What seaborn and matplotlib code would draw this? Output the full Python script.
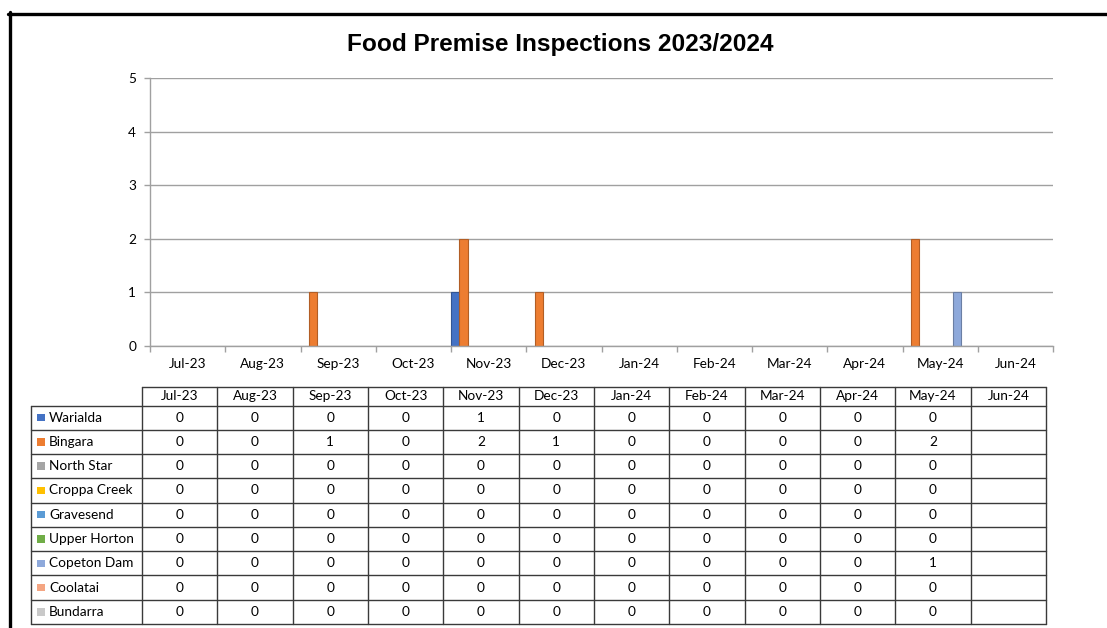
import numpy as np
import pandas as pd
import matplotlib
matplotlib.use('Agg')
import matplotlib.pyplot as plt
import seaborn as sns
from matplotlib.lines import Line2D
from matplotlib.patches import Rectangle
import matplotlib.colors as mcolors

# dados
months = ['Jul-23', 'Aug-23', 'Sep-23', 'Oct-23', 'Nov-23', 'Dec-23',
          'Jan-24', 'Feb-24', 'Mar-24', 'Apr-24', 'May-24', 'Jun-24']
sites = ['Warialda', 'Bingara', 'North Star', 'Croppa Creek', 'Gravesend',
         'Upper Horton', 'Copeton Dam', 'Coolatai', 'Bundarra']
colors = ['#4472C4', '#ED7D31', '#A5A5A5', '#FFC000', '#5B9BD5',
          '#70AD47', '#8EA9DB', '#F4A582', '#C9C9C9']

warialda = [0, 0, 0, 0, 1, 0, 0, 0, 0, 0, 0, None]
bingara = [0, 0, 1, 0, 2, 1, 0, 0, 0, 0, 2, None]
north_star = [0, 0, 0, 0, 0, 0, 0, 0, 0, 0, 0, None]
croppa_creek = [0, 0, 0, 0, 0, 0, 0, 0, 0, 0, 0, None]
gravesend = [0, 0, 0, 0, 0, 0, 0, 0, 0, 0, 0, None]
upper_horton = [0, 0, 0, 0, 0, 0, 0, 0, 0, 0, 0, None]
copeton_dam = [0, 0, 0, 0, 0, 0, 0, 0, 0, 0, 1, None]
coolatai = [0, 0, 0, 0, 0, 0, 0, 0, 0, 0, 0, None]
bundarra = [0, 0, 0, 0, 0, 0, 0, 0, 0, 0, 0, None]

series = [warialda, bingara, north_star, croppa_creek, gravesend,
          upper_horton, copeton_dam, coolatai, bundarra]

rows = []
for site, vals in zip(sites, series):
    for m, v in zip(months, vals):
        rows.append({'month': m, 'site': site, 'inspections': np.nan if v is None else v})
df = pd.DataFrame(rows)

sns.set_style('white')
plt.rcParams['font.family'] = ['Lato', 'DejaVu Sans']
plt.rcParams['text.color'] = 'black'
plt.rcParams['xtick.labelcolor'] = 'black'
plt.rcParams['ytick.labelcolor'] = 'black'

fs = 9.8
W, H = 1107, 628
fig = plt.figure(figsize=(W / 100, H / 100), dpi=100)

# gráfico de barras
ax = fig.add_axes([150 / W, 1 - 346 / H, 903 / W, 268 / H])
sns.barplot(data=df, x='month', y='inspections', hue='site', order=months,
            hue_order=sites, palette=colors, width=1.0, gap=0, saturation=1,
            linewidth=0, errorbar=None, legend=False, ax=ax)

for p in ax.patches:
    if p.get_height() > 0:
        fc = np.array(mcolors.to_rgb(p.get_facecolor()))
        p.set_edgecolor(tuple(fc * 0.75))
        p.set_linewidth(0.8)

grid_c = '#A0A0A0'
ax.set_xlim(-0.5, 11.5)
ax.set_ylim(0, 5)
ax.set_yticks(range(6))
ax.yaxis.grid(True, color=grid_c, lw=1)
ax.set_axisbelow(True)
ax.set_xlabel('')
ax.set_ylabel('')
ax.set_xticks(range(12))
ax.set_xticklabels(months)
ax.set_xticks(np.arange(-0.5, 12, 1), minor=True)
ax.tick_params(axis='x', which='major', length=0, pad=9, labelsize=fs)
ax.tick_params(axis='x', which='minor', length=4, width=1, color=grid_c, bottom=True)
ax.tick_params(axis='y', length=4, width=1, color=grid_c, left=True, pad=6, labelsize=fs)
for s in ['top', 'right']:
    ax.spines[s].set_visible(False)
for s in ['left', 'bottom']:
    ax.spines[s].set_color(grid_c)
    ax.spines[s].set_linewidth(1)

fig.text(560 / W, 1 - 44 / H, 'Food Premise Inspections 2023/2024', ha='center', va='center',
         fontsize=17.6, fontweight='bold', color='black',
         family=['Liberation Sans', 'DejaVu Sans'])

# tabela de dados
tax = fig.add_axes([31 / W, 1 - 624 / H, 1015 / W, 237 / H])
tax.set_xlim(0, 1015)
tax.set_ylim(237, 0)
tax.axis('off')

lab_w, head_h = 111, 18.5
col_w = (1015 - lab_w) / len(months)
row_h = (237 - head_h) / len(sites)
lc = '#3A3A3A'

tax.plot([lab_w, 1015], [0, 0], color=lc, lw=1, clip_on=False)
for i in range(len(sites) + 1):
    y = head_h + i * row_h
    tax.plot([0, 1015], [y, y], color=lc, lw=1, clip_on=False)
tax.plot([0, 0], [head_h, 237], color=lc, lw=1, clip_on=False)
for j in range(len(months) + 1):
    x = lab_w + j * col_w
    tax.plot([x, x], [0, 237], color=lc, lw=1, clip_on=False)

for j, m in enumerate(months):
    tax.text(lab_w + (j + 0.5) * col_w, head_h / 2, m, ha='center', va='center', fontsize=fs)

for i, (site, vals, c) in enumerate(zip(sites, series, colors)):
    yc = head_h + (i + 0.5) * row_h
    tax.add_patch(Rectangle((6, yc - 3.8), 7.5, 7.5, facecolor=c, edgecolor='none'))
    tax.text(18, yc, site, ha='left', va='center', fontsize=fs)
    for j, v in enumerate(vals):
        if v is not None:
            tax.text(lab_w + (j + 0.5) * col_w, yc, str(v), ha='center', va='center', fontsize=fs)

# moldura
fig.add_artist(Line2D([9.5 / W, 9.5 / W], [0, 1 - 12 / H], transform=fig.transFigure,
                      color='black', lw=2.4))
fig.add_artist(Line2D([8.3 / W, 1], [1 - 13.5 / H, 1 - 13.5 / H], transform=fig.transFigure,
                      color='black', lw=2.4))

fig.savefig('out.png', dpi=100)
